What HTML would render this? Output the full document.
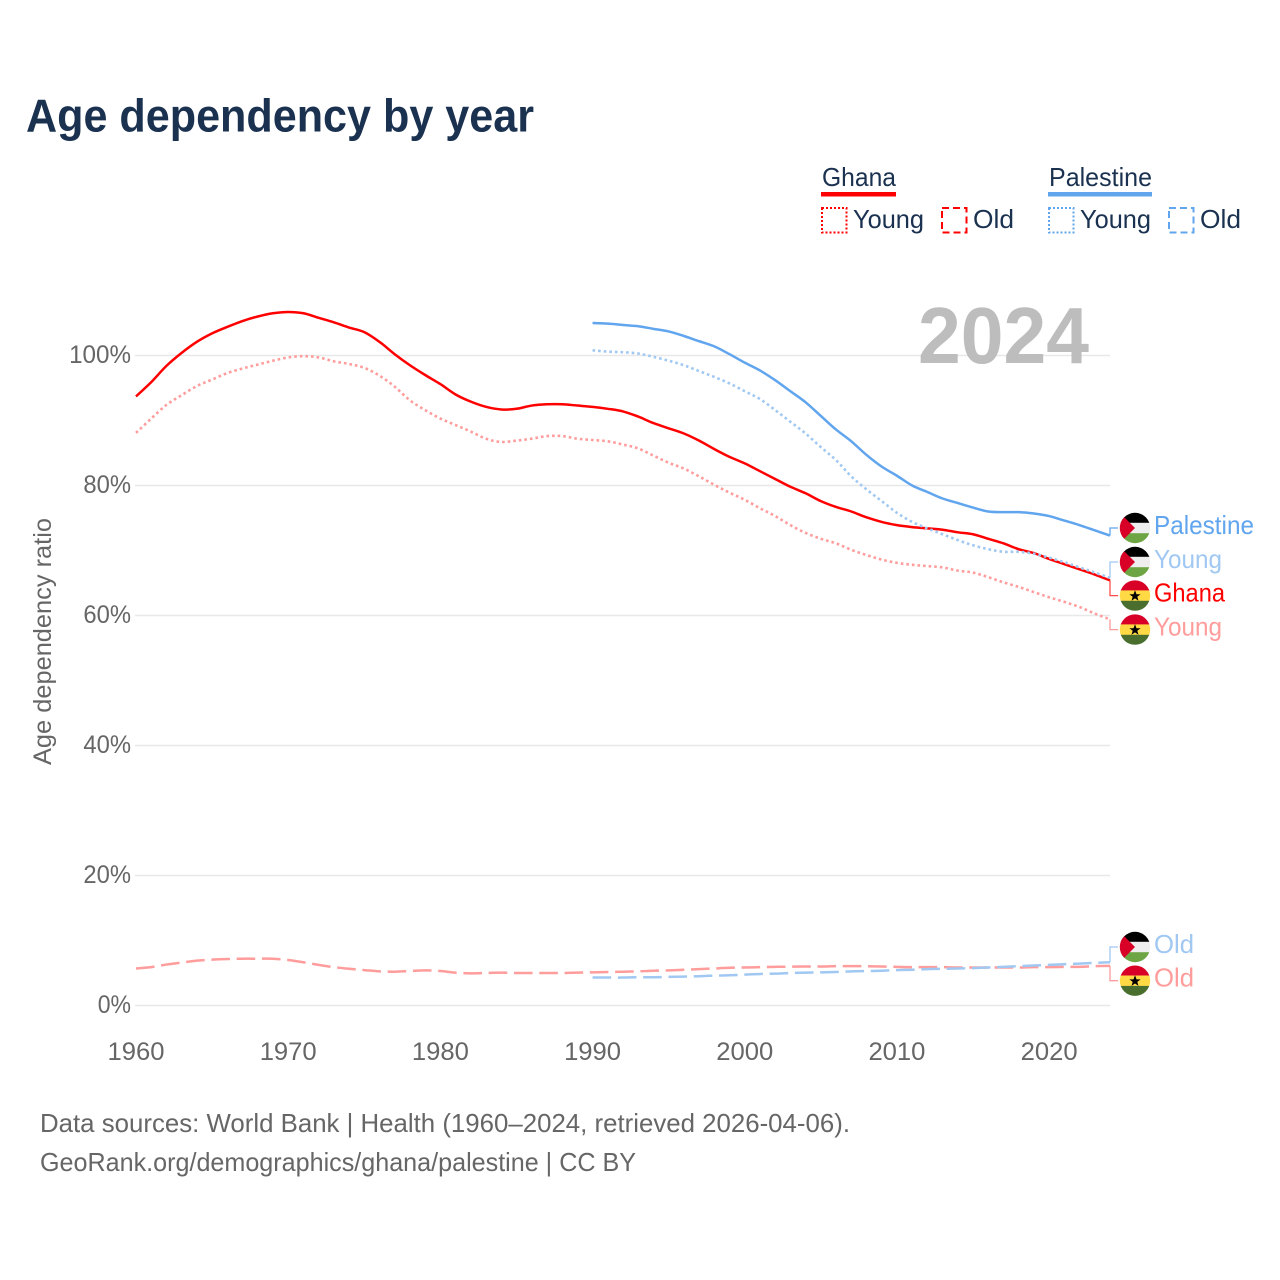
<!DOCTYPE html>
<html lang="en">
<head>
<meta charset="utf-8">
<title>Age dependency by year</title>
<style>
html,body{margin:0;padding:0;background:#fff;}
svg{display:block;}
text{font-family:"Liberation Sans",sans-serif;}
</style>
</head>
<body>
<svg id="chart" xmlns="http://www.w3.org/2000/svg" width="1280" height="1280" viewBox="0 0 1280 1280">
  <defs>
    <clipPath id="flag-clip"><circle cx="0" cy="0" r="15.2"></circle></clipPath>
    <g id="flag-palestine" clip-path="url(#flag-clip)">
      <rect x="-16" y="-16" width="32" height="11" fill="#000"></rect>
      <rect x="-16" y="-5.2" width="32" height="10.6" fill="#eeeeee"></rect>
      <rect x="-16" y="5.2" width="32" height="11" fill="#6da544"></rect>
      <polygon points="-16,-16 0,0 -16,16" fill="#d80027"></polygon>
    </g>
    <g id="flag-ghana" clip-path="url(#flag-clip)">
      <rect x="-16" y="-16" width="32" height="11" fill="#d80027"></rect>
      <rect x="-16" y="-5.2" width="32" height="10.6" fill="#ffda44"></rect>
      <rect x="-16" y="5.2" width="32" height="11" fill="#496e2d"></rect>
      <polygon points="0,-5.4 1.5,-1.3 5.6,-1.3 2.3,1.2 3.5,5.2 0,2.8 -3.5,5.2 -2.3,1.2 -5.6,-1.3 -1.5,-1.3" fill="#000"></polygon>
    </g>
  </defs>

  <text x="26" y="131.5" font-size="46" font-weight="700" fill="#1a3150" textLength="508" lengthAdjust="spacingAndGlyphs">Age dependency by year</text>

  <g>
    <text x="822" y="186" font-size="26" fill="#1a3150" textLength="74" lengthAdjust="spacingAndGlyphs">Ghana</text>
    <rect x="821" y="192" width="75" height="4.5" fill="#ff0000"></rect>
    <rect x="822" y="208" width="24.5" height="24.5" fill="none" stroke="#ff0000" stroke-width="2" stroke-dasharray="2 2"></rect>
    <text x="853" y="228" font-size="26" fill="#1a3150" textLength="71" lengthAdjust="spacingAndGlyphs">Young</text>
    <rect x="942" y="208" width="24.5" height="24.5" fill="none" stroke="#ff0000" stroke-width="2" stroke-dasharray="7 4"></rect>
    <text x="973" y="228" font-size="26" fill="#1a3150" textLength="41" lengthAdjust="spacingAndGlyphs">Old</text>

    <text x="1049" y="186" font-size="26" fill="#1a3150" textLength="103" lengthAdjust="spacingAndGlyphs">Palestine</text>
    <rect x="1048" y="192" width="104" height="4.5" fill="#60a5ee"></rect>
    <rect x="1049" y="208" width="24.5" height="24.5" fill="none" stroke="#60a5ee" stroke-width="2" stroke-dasharray="2 2"></rect>
    <text x="1080" y="228" font-size="26" fill="#1a3150" textLength="71" lengthAdjust="spacingAndGlyphs">Young</text>
    <rect x="1169" y="208" width="24.5" height="24.5" fill="none" stroke="#60a5ee" stroke-width="2" stroke-dasharray="7 4"></rect>
    <text x="1200" y="228" font-size="26" fill="#1a3150" textLength="41" lengthAdjust="spacingAndGlyphs">Old</text>
  </g>

  <g id="grid-layer"></g>

  <text x="918" y="363" font-size="80" font-weight="700" fill="#bdbdbd" textLength="171" lengthAdjust="spacingAndGlyphs">2024</text>

  <g id="y-tick-layer"></g>
  <g id="x-tick-layer"></g>

  <text transform="translate(51,765) rotate(-90)" x="0" y="0" font-size="25" fill="#666666" textLength="247" lengthAdjust="spacingAndGlyphs">Age dependency ratio</text>

  <g id="series-layer"></g>
  <g id="label-layer"></g>

  <text x="40" y="1132" font-size="26" fill="#666666" textLength="810" lengthAdjust="spacingAndGlyphs">Data sources: World Bank | Health (1960–2024, retrieved 2026-04-06).</text>
  <text x="40" y="1171" font-size="26" fill="#666666" textLength="596" lengthAdjust="spacingAndGlyphs">GeoRank.org/demographics/ghana/palestine | CC BY</text>
</svg>

<script>
const ghanaYears = [1960,1961,1962,1963,1964,1965,1966,1967,1968,1969,1970,1971,1972,1973,1974,1975,1976,1977,1978,1979,1980,1981,1982,1983,1984,1985,1986,1987,1988,1989,1990,1991,1992,1993,1994,1995,1996,1997,1998,1999,2000,2001,2002,2003,2004,2005,2006,2007,2008,2009,2010,2011,2012,2013,2014,2015,2016,2017,2018,2019,2020,2021,2022,2023,2024];
const palestineYears = [1990,1991,1992,1993,1994,1995,1996,1997,1998,1999,2000,2001,2002,2003,2004,2005,2006,2007,2008,2009,2010,2011,2012,2013,2014,2015,2016,2017,2018,2019,2020,2021,2022,2023,2024];

const ghanaTotal = [93.7,95.9,98.4,100.4,102.1,103.4,104.4,105.3,106,106.5,106.7,106.5,105.8,105.1,104.3,103.6,102.1,100.2,98.5,97,95.6,94,92.9,92.1,91.7,91.8,92.3,92.5,92.5,92.3,92.1,91.8,91.4,90.6,89.6,88.8,88,86.9,85.6,84.4,83.4,82.2,81,79.8,78.8,77.6,76.7,76,75.1,74.4,73.9,73.6,73.4,73.2,72.8,72.5,71.8,71.1,70.2,69.6,68.7,67.9,67.1,66.3,65.4];
const ghanaYoung = [88.1,90.3,92.4,93.9,95.3,96.3,97.3,98,98.6,99.2,99.7,99.9,99.7,99.1,98.7,98.1,96.9,95.2,93.1,91.6,90.3,89.3,88.3,87.2,86.7,86.9,87.2,87.6,87.6,87.2,87,86.8,86.3,85.7,84.6,83.5,82.6,81.4,80.1,78.9,77.8,76.5,75.3,73.9,72.7,71.8,71.1,70.1,69.3,68.6,68.1,67.8,67.6,67.4,66.9,66.6,65.9,65.1,64.4,63.6,62.8,62.1,61.3,60.3,59.4];
const ghanaOld = [5.7,5.9,6.3,6.6,6.9,7.05,7.15,7.2,7.2,7.2,7,6.65,6.25,5.9,5.65,5.45,5.25,5.2,5.3,5.4,5.3,5.05,4.95,5,5.05,5,5,5,5,5.05,5.1,5.15,5.2,5.25,5.35,5.4,5.5,5.6,5.7,5.8,5.85,5.9,5.95,5.97,6,6,6.05,6.05,6.05,6,5.95,5.9,5.9,5.9,5.85,5.85,5.85,5.85,5.85,5.9,5.9,5.95,5.95,6.05,6.1];

const palestineTotal = [105,104.9,104.7,104.5,104.1,103.7,103,102.2,101.4,100.2,98.9,97.7,96.2,94.5,92.8,90.7,88.6,86.8,84.7,82.9,81.5,80,79,78,77.3,76.6,76,75.9,75.9,75.7,75.3,74.6,73.9,73.1,72.3];
const palestineYoung = [100.8,100.6,100.5,100.3,99.8,99.2,98.5,97.6,96.7,95.7,94.5,93.3,91.6,89.8,88,85.9,83.9,81.4,79.4,77.6,75.8,74.4,73.4,72.5,71.6,70.8,70.2,69.8,69.8,69.5,68.9,68.2,67.4,66.6,65.8];
const palestineOld = [4.3,4.3,4.3,4.35,4.35,4.4,4.45,4.5,4.6,4.65,4.75,4.85,4.9,5,5.05,5.1,5.15,5.25,5.3,5.35,5.45,5.5,5.6,5.65,5.7,5.75,5.85,5.95,6.05,6.15,6.25,6.35,6.45,6.55,6.65];

const yTickValues = [0,20,40,60,80,100];
const yTickLabels = ["0%","20%","40%","60%","80%","100%"];
const xTickValues = [1960,1970,1980,1990,2000,2010,2020];
const xTickLabels = ["1960","1970","1980","1990","2000","2010","2020"];

const SVG_NS = "http://www.w3.org/2000/svg";
const PLOT_LEFT = 136, PLOT_RIGHT = 1110, PLOT_ZERO = 1005.5, PLOT_HUNDRED = 355.5;
const YEAR_MIN = 1960, YEAR_MAX = 2024;

function xScale(year) {
  return PLOT_LEFT + (year - YEAR_MIN) * (PLOT_RIGHT - PLOT_LEFT) / (YEAR_MAX - YEAR_MIN);
}
function yScale(value) {
  return PLOT_ZERO + value * (PLOT_HUNDRED - PLOT_ZERO) / 100;
}
function make(tag, attrs, parent) {
  const el = document.createElementNS(SVG_NS, tag);
  Object.keys(attrs).forEach(function (k) { el.setAttribute(k, attrs[k]); });
  parent.appendChild(el);
  return el;
}

const gridLayer = document.getElementById("grid-layer");
const yTickLayer = document.getElementById("y-tick-layer");
const xTickLayer = document.getElementById("x-tick-layer");
const seriesLayer = document.getElementById("series-layer");
const labelLayer = document.getElementById("label-layer");

yTickValues.forEach(function (v, i) {
  const line = make("line", {x1: PLOT_LEFT - 1, x2: PLOT_RIGHT, y1: yScale(v), y2: yScale(v), stroke: "#e8e8e8", "stroke-width": 1.5}, gridLayer);
  
  
  const label = yTickLabels[i];
  const t = make("text", {x: 131 - (14.3 * (label.length - 1) + 19), y: yScale(v) + 7.5, "font-size": 25, fill: "#666666", textLength: 14.3 * (label.length - 1) + 19, lengthAdjust: "spacingAndGlyphs"}, yTickLayer);
  t.textContent = label;
  
  
});

xTickValues.forEach(function (v, i) {
  const t = make("text", {x: xScale(v) - 28.5, y: 1060, "font-size": 25, fill: "#666666", textLength: 57, lengthAdjust: "spacingAndGlyphs"}, xTickLayer);
  t.textContent = xTickLabels[i];
  
  
});

function smoothPath(years, values) {
  const pts = values.map(function (v, i) { return [xScale(years[i]), yScale(v)]; });
  let d = "M" + pts[0][0].toFixed(2) + " " + pts[0][1].toFixed(2);
  for (let i = 0; i < pts.length - 1; i++) {
    const p0 = pts[Math.max(i - 1, 0)];
    const p1 = pts[i];
    const p2 = pts[i + 1];
    const p3 = pts[Math.min(i + 2, pts.length - 1)];
    const c1x = p1[0] + (p2[0] - p0[0]) / 6;
    const c1y = p1[1] + (p2[1] - p0[1]) / 6;
    const c2x = p2[0] - (p3[0] - p1[0]) / 6;
    const c2y = p2[1] - (p3[1] - p1[1]) / 6;
    d += "C" + c1x.toFixed(2) + " " + c1y.toFixed(2) + " " + c2x.toFixed(2) + " " + c2y.toFixed(2) + " " + p2[0].toFixed(2) + " " + p2[1].toFixed(2);
  }
  return d;
}

function drawLine(years, values, color, width, dash, name) {
  const p = make("path", {d: smoothPath(years, values), fill: "none", stroke: color, "stroke-width": width, "stroke-linejoin": "round"}, seriesLayer);
  if (dash) { p.setAttribute("stroke-dasharray", dash); }
  
  
}

const RED = "#ff0000", BLUE = "#60a5ee", PALE_RED = "#ff9c9c", PALE_BLUE = "#a0c8f2";
const DOT = "2.6 3", DASH = "18.6 6.7";

drawLine(ghanaYears, ghanaTotal, RED, 2.5, null, 'line-ghana-total');
drawLine(palestineYears, palestineTotal, BLUE, 2.5, null, 'line-palestine-total');
drawLine(ghanaYears, ghanaYoung, PALE_RED, 2.6, DOT, 'line-ghana-young');
drawLine(palestineYears, palestineYoung, PALE_BLUE, 2.6, DOT, 'line-palestine-young');
drawLine(ghanaYears, ghanaOld, PALE_RED, 2.5, DASH, 'line-ghana-old');
drawLine(palestineYears, palestineOld, PALE_BLUE, 2.5, DASH, 'line-palestine-old');

function drawEndLabel(text, values, labelY, flag, color, connectorColor, textWidth, name) {
  const startY = yScale(values[values.length - 1]);
  const conn = make("path", {d: "M" + PLOT_RIGHT + " " + startY.toFixed(2) + "V" + labelY + "H1118", fill: "none", stroke: connectorColor, "stroke-width": 1.3}, labelLayer);
  
  
  const use = make("use", {href: "#" + flag, transform: "translate(1135," + labelY + ")"}, labelLayer);
  
  
  const t = make("text", {x: 1154, y: labelY + 6, "font-size": 26, fill: color, textLength: textWidth, lengthAdjust: "spacingAndGlyphs"}, labelLayer);
  t.textContent = text;
  
  
}

drawEndLabel("Palestine", palestineTotal, 528, "flag-palestine", BLUE, BLUE, 100, 'end-palestine-total');
drawEndLabel("Young", palestineYoung, 562, "flag-palestine", PALE_BLUE, PALE_BLUE, 68, 'end-palestine-young');
drawEndLabel("Ghana", ghanaTotal, 595.6, "flag-ghana", RED, "#ff4d4d", 71, 'end-ghana-total');
drawEndLabel("Young", ghanaYoung, 629.6, "flag-ghana", PALE_RED, PALE_RED, 68, 'end-ghana-young');
drawEndLabel("Old", palestineOld, 947, "flag-palestine", PALE_BLUE, PALE_BLUE, 40, 'end-palestine-old');
drawEndLabel("Old", ghanaOld, 980.7, "flag-ghana", PALE_RED, PALE_RED, 40, 'end-ghana-old');
</script>
</body>
</html>
